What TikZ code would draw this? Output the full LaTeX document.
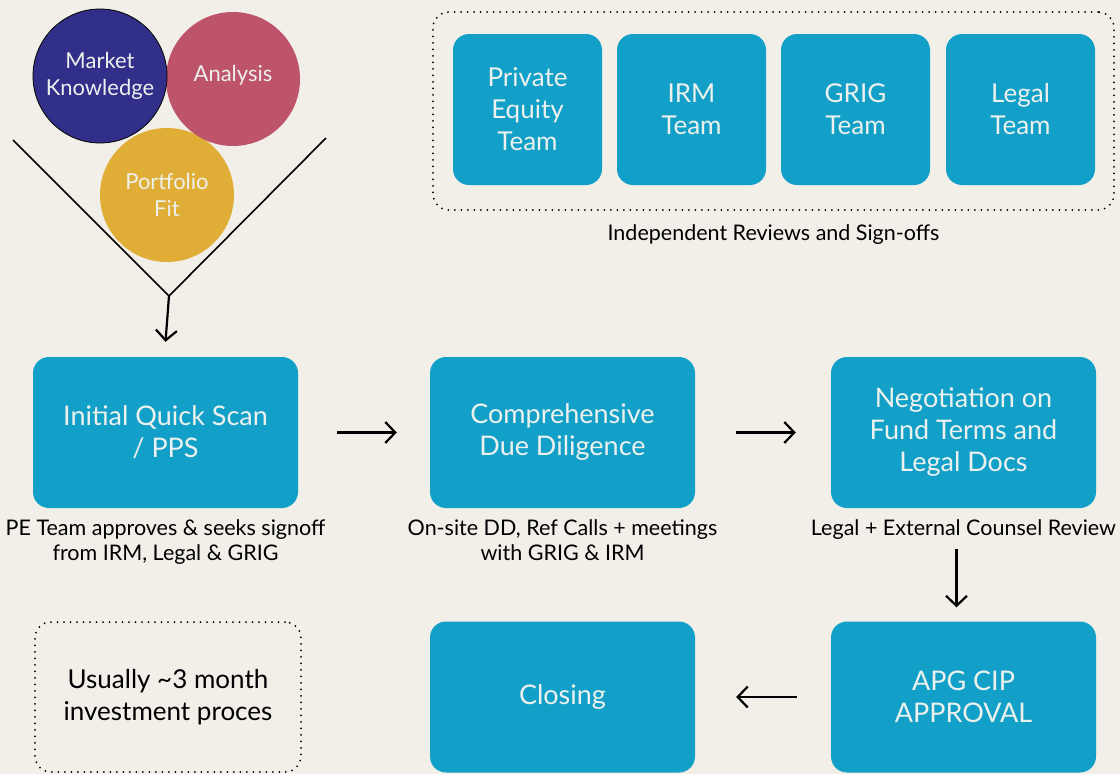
\documentclass[tikz,border=0pt]{standalone}
\usepackage{fontspec}
\setmainfont{Lato}
\usepackage{tikz}
\usetikzlibrary{arrows.meta}
\definecolor{paper}{HTML}{F2EFE9}
\definecolor{boxblue}{HTML}{12A0C8}
\definecolor{navy}{HTML}{312F8A}
\definecolor{rose}{HTML}{BE5469}
\definecolor{gold}{HTML}{E0AE36}
\definecolor{lighttext}{HTML}{EDF1EE}

\begin{document}
\begin{tikzpicture}[x=1pt,y=-1pt,
    stepbox/.style={fill=boxblue,rounded corners=16pt,minimum width=265pt,minimum height=151pt,
      text=lighttext,align=center,font=\fontsize{27}{32}\selectfont},
    teambox/.style={fill=boxblue,rounded corners=16pt,minimum width=149pt,minimum height=151pt,
      text=lighttext,align=center,font=\fontsize{26}{32}\selectfont},
    bubble/.style={circle,minimum size=134pt,inner sep=0pt,text=lighttext,align=center,
      font=\fontsize{22}{27}\selectfont},
    dotframe/.style={draw,line width=2pt,dash pattern=on 0pt off 6.5pt,line cap=round,rounded corners=16pt},
    caption/.style={align=center,font=\fontsize{21.5}{24.5}\selectfont},
    flow/.style={line width=2.2pt,-{Straight Barb[length=10pt,width=21pt]}}]
  \fill[paper] (0,0) rectangle (1120,774);
  \useasboundingbox (0,0) rectangle (1120,774);

  % funnel
  \coordinate (fl) at (13,140);
  \coordinate (fr) at (326,138);
  \coordinate (fb) at (169,296);
  \draw[line width=1.6pt] (fl) -- (fb) -- (fr);
  \node[bubble,fill=gold] (fit) at (167,195) {Portfolio\\Fit};
  \node[bubble,fill=rose] (ana) at (233,79) {\raisebox{12pt}{Analysis}};
  \node[bubble,fill=navy,draw=black,line width=0.8pt] (mk) at (100,76) {\raisebox{2pt}{Market}\\\raisebox{2pt}{Knowledge}};

  % reviews
  \node[dotframe,minimum width=681pt,minimum height=198pt] (frame) at (773.5,111) {};
  \node[teambox] (pe) at (527.5,109.5) {Private\\Equity\\Team};
  \node[teambox] (irm) at (691.5,109.5) {IRM\\Team};
  \node[teambox] (grig) at (855.5,109.5) {GRIG\\Team};
  \node[teambox] (legal) at (1020.5,109.5) {Legal\\Team};
  \node[caption,anchor=north] (revcap) at ([yshift=-10]frame.south) {Independent Reviews and Sign-offs};

  % process
  \node[stepbox] (scan) at (165.5,432.5) {Initial Quick Scan\\/ PPS};
  \node[stepbox] (cdd) at (562.5,432.5) {Comprehensive\\Due Diligence};
  \node[stepbox] (neg) at (963.5,432.5) {Negotiation on\\Fund Terms and\\Legal Docs};
  \node[stepbox] (apg) at (963.5,697) {APG CIP\\APPROVAL};
  \node[stepbox] (closing) at (562.5,697) {Closing};
  \node[dotframe,minimum width=266pt,minimum height=150pt,align=center,
    font=\fontsize{26}{32}\selectfont] (note) at (168,697) {Usually \char`\~3 month\\investment proces};

  \node[caption,anchor=north] (scancap) at ([yshift=-8]scan.south) {PE Team approves \& seeks signoff\\from IRM, Legal \& GRIG};
  \node[caption,anchor=north] (cddcap) at ([yshift=-8]cdd.south) {On-site DD, Ref Calls + meetings\\with GRIG \& IRM};
  \node[caption,anchor=north] (negcap) at ([yshift=-8]neg.south) {Legal + External Counsel Review};

  \draw[flow] (fb) -- ([yshift=15]scan.north);
  \draw[flow] ([xshift=39]scan.east) -- ([xshift=-33]cdd.west);
  \draw[flow] ([xshift=41]cdd.east) -- ([xshift=-35]neg.west);
  \draw[flow] ([xshift=-7,yshift=-6]negcap.south) -- ([xshift=-7,yshift=14]apg.north);
  \draw[flow] ([xshift=-34]apg.west) -- ([xshift=41]closing.east);
\end{tikzpicture}
\end{document}
